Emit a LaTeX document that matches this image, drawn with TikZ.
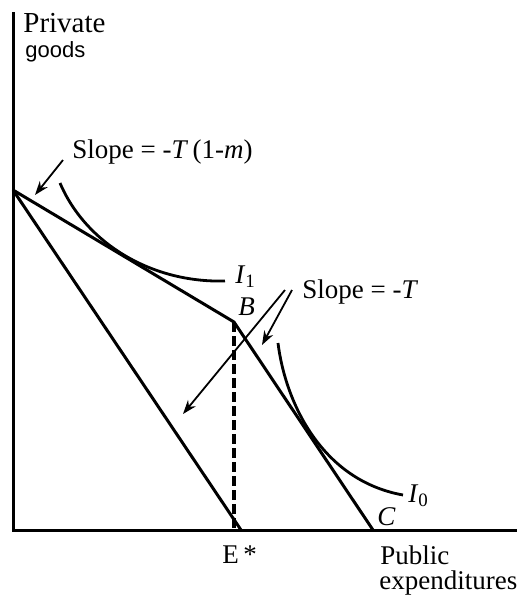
\documentclass[tikz,border=0pt]{standalone}
\usepackage{fontspec}
\setmainfont{Liberation Serif}
\newfontfamily\sansf{Liberation Sans}
\usetikzlibrary{arrows.meta}
\begin{document}
\begin{tikzpicture}[x=0.5pt,y=-0.5pt,
  ax/.style={line width=1.5pt},
  bline/.style={line width=1.5pt},
  icurve/.style={line width=1.4pt},
  dashv/.style={line width=1.7pt,dash pattern=on 5pt off 2pt},
  ptr/.style={line width=0.9pt,-{Stealth[length=7pt,width=5pt]}},
  lbl/.style={inner sep=0pt,anchor=base west,font=\fontsize{13.5}{16}\selectfont},
  slbl/.style={inner sep=0pt,anchor=base west,font=\sansf\fontsize{11}{13}\selectfont},
]
\useasboundingbox (0,0) rectangle (523,596);
% axes
\coordinate (O) at (13,530);
\coordinate (Ytop) at (13,12);
\coordinate (Xend) at (517,530);
\draw[ax] (Ytop) -- (O) -- (Xend);
% budget lines
\coordinate (A) at (13,190);
\coordinate (B) at (234,322);
\coordinate (C) at (373,530);
\coordinate (D) at (241,530);
\coordinate (E) at (234,530);
\draw[bline] (A) -- (B) -- (C);
\draw[bline] (A) -- (D);
\draw[dashv] (B) -- (E);
% indifference curves
\coordinate (I1s) at (60,183);
\coordinate (I1e) at (225,281);
\draw[icurve] (I1s) .. controls (85,242) and (150,283) .. (I1e);
\coordinate (I0s) at (278,343);
\coordinate (I0e) at (403,495);
\draw[icurve] (I0s) .. controls (285,400) and (320,480) .. (I0e);
% labels
\node[lbl,font=\fontsize{14.5}{17}\selectfont] (priv) at (23,32) {Private};
\node[slbl] (goods) at (25,57) {goods};
\node[lbl] (s1) at (72,158) {Slope = -\textit{T}\,(1-\textit{m})};
\node[lbl] (s2) at (302,298) {Slope = -\textit{T}};
\node[lbl] (i1) at (235,283) {\textit{I}\textsubscript{1}};
\node[lbl] (bl) at (238,315) {\textit{B}};
\node[lbl] (i0) at (408,502) {\textit{I}\textsubscript{0}};
\node[lbl] (cl) at (377,525) {\textit{C}};
\node[lbl] (es) at (222,563) {E\,*};
\node[lbl] (pub) at (380,564) {Public};
\node[lbl] (exp) at (379,589) {expenditures};
% pointer arrows
\coordinate (p1s) at (63,160);
\coordinate (p1e) at (35,195);
\draw[ptr] (p1s) -- (p1e);
\coordinate (p2s) at (292,290);
\coordinate (p2e) at (262,345);
\draw[ptr] (p2s) -- (p2e);
\coordinate (p3s) at (285,290);
\coordinate (p3e) at (183,414);
\draw[ptr] (p3s) -- (p3e);
\end{tikzpicture}
\end{document}
